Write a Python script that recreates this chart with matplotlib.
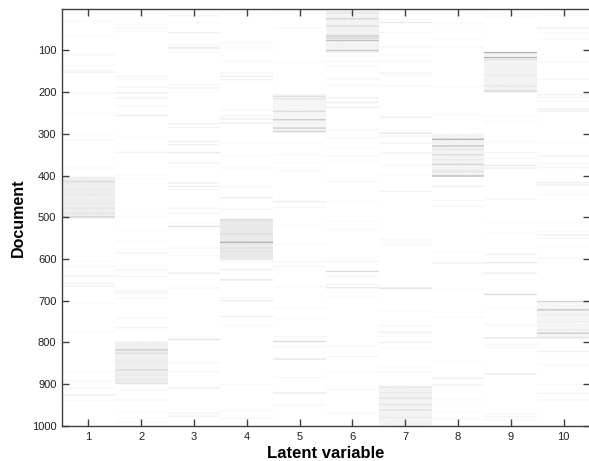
import numpy as np
import matplotlib
matplotlib.use('Agg')
import matplotlib.pyplot as plt
matplotlib.rcParams['font.family'] = ['Liberation Sans', 'DejaVu Sans']

n_docs = 1000
latent = [1, 2, 3, 4, 5, 6, 7, 8, 9, 10]
y_ticks = [100, 200, 300, 400, 500, 600, 700, 800, 900, 1000]

# block of documents for each latent variable (first doc, last doc, grey level)
block_start = [403, 798, 0, 504, 205, 5, 904, 300, 104, 701]
block_end = [503, 900, 0, 602, 298, 106, 1000, 402, 200, 792]
block_level = [.09, .09, 0, .12, .05, .07, .07, .07, .07, .05]

# single documents
docs1 = [29, 66, 110, 136, 149, 153, 202, 250, 302, 314, 382, 414, 434, 446, 466, 478, 490, 499,
         606, 618, 641, 658, 665, 706, 774, 870, 892, 910, 926, 940]
vals1 = [.03, .03, .05, .04, .07, .07, .03, .03, .03, .04, .04, .2, .12, .13, .13, .15, .15, .25,
         .03, .04, .08, .07, .08, .03, .04, .03, .04, .05, .1, .04]
docs2 = [37, 46, 54, 162, 168, 188, 202, 214, 234, 256, 310, 344, 398, 408, 497, 534, 558, 585,
         626, 642, 677, 682, 694, 742, 765, 818, 826, 846, 866, 878, 890, 898, 916, 938, 966, 992]
vals2 = [.04, .05, .03, .06, .06, .06, .1, .08, .04, .1, .03, .06, .05, .03, .03, .02, .04, .07,
         .07, .05, .08, .05, .04, .05, .06, .3, .2, .12, .2, .13, .13, .15, .04, .05, .03, .04]
docs3 = [17, 34, 57, 88, 94, 105, 182, 190, 276, 284, 318, 326, 345, 370, 418, 426, 434, 478, 490,
         514, 522, 574, 592, 634, 670, 793, 849, 870, 909, 970, 977]
vals3 = [.07, .03, .08, .05, .15, .04, .06, .08, .08, .08, .07, .07, .12, .07, .09, .1, .06, .07, .05,
         .03, .17, .04, .04, .1, .05, .15, .05, .05, .1, .08, .06]
docs4 = [10, 82, 94, 125, 154, 162, 170, 242, 257, 264, 274, 322, 354, 382, 428, 453, 481,
         506, 526, 540, 560, 574, 582, 594, 606, 625, 650, 694, 700, 738, 760, 901, 964, 982]
vals4 = [.02, .05, .04, .04, .07, .1, .09, .05, .06, .1, .12, .03, .03, .04, .03, .12, .06,
         .2, .13, .2, .45, .18, .15, .13, .04, .1, .15, .05, .1, .1, .03, .04, .03, .05]
docs5 = [46, 128, 210, 216, 246, 266, 286, 294, 322, 350, 370, 390, 462, 476,
         518, 565, 606, 618, 666, 718, 742, 786, 798, 810, 840, 884, 921, 950]
vals5 = [.03, .03, .18, .15, .2, .3, .3, .25, .03, .03, .03, .03, .1, .04,
         .02, .03, .05, .05, .04, .03, .03, .06, .2, .04, .15, .05, .12, .05]
docs6 = [10, 24, 41, 65, 70, 76, 100, 113, 126, 138, 168, 182, 214, 225, 236, 290, 310, 333, 353, 366,
         414, 462, 510, 530, 606, 630, 642, 662, 669, 690, 808, 834, 872, 913, 969]
vals6 = [.15, .25, .2, .3, .25, .35, .3, .03, .05, .05, .06, .04, .08, .1, .1, .05, .04, .03, .05, .03,
         .05, .03, .03, .03, .07, .2, .06, .08, .15, .03, .05, .05, .04, .06, .04]
docs7 = [26, 33, 57, 92, 110, 126, 154, 158, 185, 260, 298, 305, 322, 346, 374, 400, 438,
         552, 557, 565, 670, 725, 760, 776, 786, 800, 814, 860, 870, 908, 921, 934, 949, 962, 980]
vals7 = [.05, .12, .05, .04, .04, .05, .06, .04, .04, .1, .15, .06, .05, .08, .04, .03, .07,
         .05, .03, .04, .18, .03, .04, .08, .03, .08, .04, .03, .04, .13, .12, .17, .15, .18, .12]
docs8 = [36, 74, 92, 188, 254, 313, 329, 337, 350, 362, 373, 390, 401, 426, 460, 474,
         585, 610, 674, 728, 741, 846, 886, 902, 938, 966, 984]
vals8 = [.03, .03, .05, .03, .03, .45, .35, .15, .2, .12, .25, .15, .4, .08, .04, .04,
         .02, .08, .03, .03, .03, .03, .1, .08, .03, .03, .03]
docs9 = [18, 105, 117, 122, 138, 158, 170, 185, 196, 198, 258, 270, 318, 345, 358, 376, 382, 456,
         512, 536, 589, 609, 634, 685, 717, 758, 789, 806, 813, 876, 972, 978, 986]
vals9 = [.03, .45, .4, .15, .08, .12, .07, .15, .15, .2, .04, .04, .03, .06, .05, .12, .1, .06,
         .03, .03, .08, .13, .1, .2, .03, .05, .13, .06, .05, .12, .05, .05, .03]
docs10 = [14, 46, 58, 73, 128, 169, 206, 212, 222, 241, 246, 321, 353, 370, 381, 417, 422, 446,
          512, 534, 542, 550, 570, 598, 702, 722, 734, 750, 770, 778, 788, 822, 854, 901, 922, 938]
vals10 = [.03, .08, .04, .03, .05, .05, .08, .05, .06, .1, .08, .04, .08, .04, .05, .1, .08, .03,
          .03, .05, .07, .05, .03, .05, .25, .35, .12, .1, .12, .3, .15, .07, .03, .05, .06, .05]

all_docs = [docs1, docs2, docs3, docs4, docs5, docs6, docs7, docs8, docs9, docs10]
all_vals = [vals1, vals2, vals3, vals4, vals5, vals6, vals7, vals8, vals9, vals10]

# fill the document x latent variable matrix
mat = np.zeros((n_docs, len(latent)))
for k in range(len(latent)):
    if block_end[k] > 0:
        mat[block_start[k] - 1:block_end[k], k] = block_level[k]
    for d, v in zip(all_docs[k], all_vals[k]):
        a = max(d - 2, 0)
        b = d + 1
        mat[a:b, k] = np.maximum(mat[a:b, k], v)

fig = plt.figure(figsize=(5.89, 4.61), dpi=100)
ax = fig.add_axes([62 / 589, 1 - 426 / 461, 528 / 589, 417 / 461])
# one image per column, otherwise the columns get smeared into each other
for k in range(len(latent)):
    ax.imshow(mat[:, [k]], cmap='gray_r', vmin=0, vmax=1.4, aspect='auto', interpolation='antialiased',
              extent=[latent[k] - 0.5, latent[k] + 0.5, 1000.5, 0.5])
ax.set_xlim(0.5, 10.5)
ax.set_ylim(1000.5, 0.5)

ax.set_xticks(latent)
ax.set_yticks(y_ticks)
ax.tick_params(direction='in', top=True, right=True, length=5, width=1, color='#404040',
               labelsize=8, labelcolor='#202020', pad=4)
for s in ax.spines.values():
    s.set_color('#404040')
    s.set_linewidth(1)
ax.set_xlabel('Latent variable', fontsize=12, fontweight='bold', labelpad=3)
ax.set_ylabel('Document', fontsize=11.5, fontweight='bold', labelpad=4)

fig.savefig('out.png', dpi=100)
